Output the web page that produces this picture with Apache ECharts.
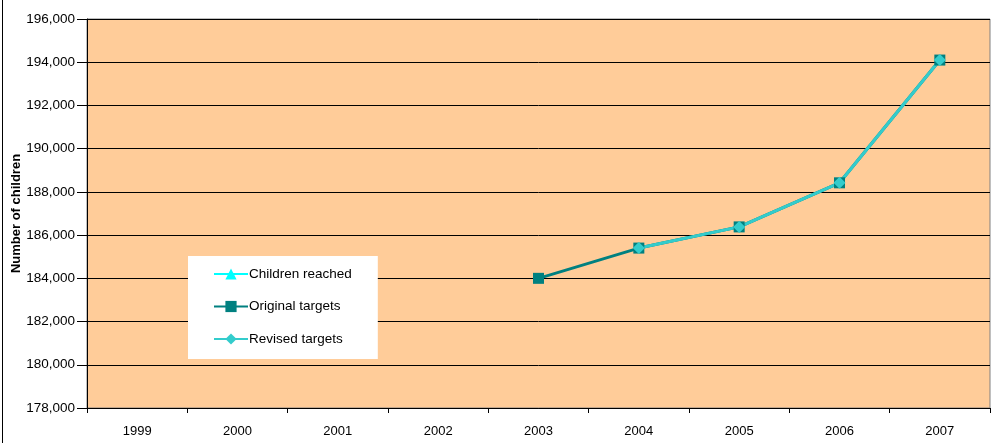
<!DOCTYPE html>
<html>
<head>
<meta charset="utf-8">
<script src="https://cdn.jsdelivr.net/npm/echarts@6/dist/echarts.min.js"></script>
<style>
html,body{margin:0;padding:0;background:#fff;}
#c{width:991px;height:443px;}
</style>
</head>
<body>
<div id="c"></div>
<script>
const years = ['1999','2000','2001','2002','2003','2004','2005','2006','2007'];
const childrenReached = [null,null,null,null,null,null,null,null,null];
const originalTargets = [null,null,null,null,184000,185400,186380,188420,194100];
const revisedTargets  = [null,null,null,null,null,185400,186380,188420,194100];

const chart = echarts.init(document.getElementById('c'));
const font = 'Liberation Sans, Arial, sans-serif';
chart.setOption({
  animation: false,
  backgroundColor: '#ffffff',
  graphic: [
    { type: 'line', shape: { x1: 2.5, y1: 0, x2: 2.5, y2: 443 }, style: { stroke: '#000', lineWidth: 1 } }
  ],
  grid: {
    left: 87, top: 19, width: 903, height: 389,
    outerBoundsMode: 'none', containLabel: false,
    show: true, backgroundColor: '#FFCC99', borderColor: '#808080', borderWidth: 1
  },
  legend: {
    orient: 'vertical',
    left: 188, top: 256,
    padding: [11, 26, 13, 25],
    itemGap: 18.5,
    itemWidth: 34, itemHeight: 14,
    backgroundColor: '#ffffff',
    textStyle: { fontFamily: font, fontSize: 13.5, color: '#000', padding: [0, 0, 0, -4] },
    data: ['Children reached', 'Original targets', 'Revised targets']
  },
  xAxis: {
    type: 'category',
    data: years,
    boundaryGap: true,
    axisLine: { lineStyle: { color: '#000' } },
    axisTick: { show: true, alignWithLabel: false, length: 5, lineStyle: { color: '#000' } },
    axisLabel: { fontFamily: font, fontSize: 13, color: '#000', margin: 17 },
    splitLine: { show: false }
  },
  yAxis: {
    type: 'value',
    min: 178000, max: 196000, interval: 2000,
    name: 'Number of children',
    nameLocation: 'middle',
    nameGap: 64,
    nameMoveOverlap: false,
    nameTextStyle: { fontFamily: font, fontSize: 13, fontWeight: 'bold', color: '#000' },
    axisLine: { show: true, lineStyle: { color: '#000' } },
    axisTick: { show: true, length: 10, inside: false, lineStyle: { color: '#000' } },
    axisLabel: {
      fontFamily: font, fontSize: 13.5, color: '#000', margin: 12,
      formatter: v => v.toLocaleString('en-US')
    },
    splitLine: { show: true, lineStyle: { color: '#000', width: 1 } }
  },
  series: [
    {
      name: 'Children reached', type: 'line', data: childrenReached,
      symbol: 'triangle', symbolSize: 10,
      lineStyle: { color: '#00FFFF', width: 3 },
      itemStyle: { color: '#00FFFF' }
    },
    {
      name: 'Original targets', type: 'line', data: originalTargets,
      symbol: 'rect', symbolSize: 11,
      lineStyle: { color: '#008080', width: 3 },
      itemStyle: { color: '#008080' }
    },
    {
      name: 'Revised targets', type: 'line', data: revisedTargets,
      symbol: 'diamond', symbolSize: 12,
      lineStyle: { color: '#33CCCC', width: 3 },
      itemStyle: { color: '#33CCCC' }
    }
  ]
});
</script>
</body>
</html>
